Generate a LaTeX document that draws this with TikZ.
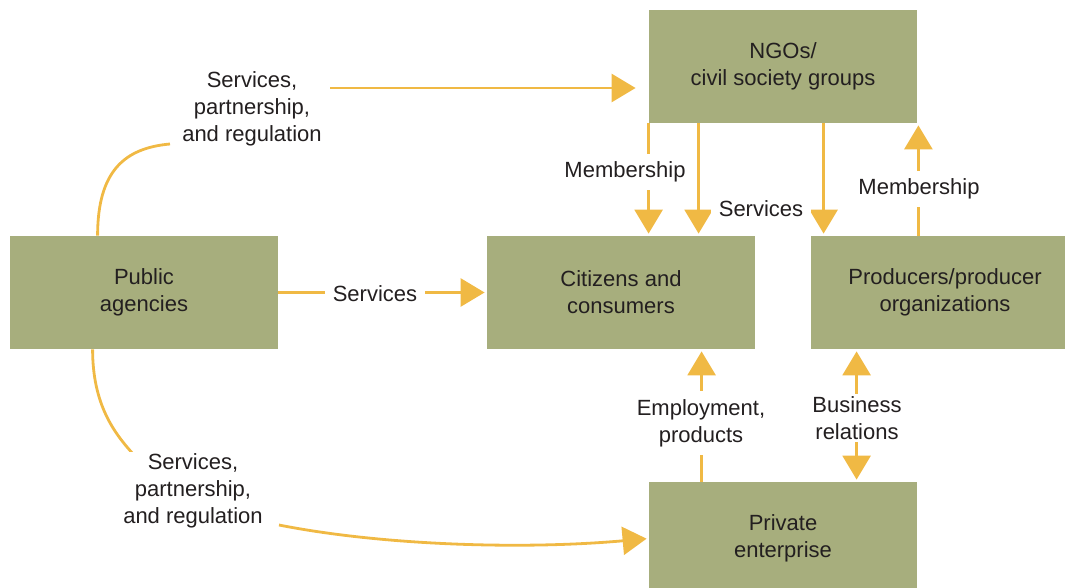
\documentclass[tikz,border=0pt]{standalone}
\usepackage{fontspec}
\setmainfont{Liberation Sans}
\usetikzlibrary{arrows.meta, calc}
\definecolor{boxgreen}{HTML}{A7AE7D}
\definecolor{arrorange}{HTML}{F0B944}
\definecolor{txtgray}{HTML}{231F20}

\begin{document}
\begin{tikzpicture}[x=0.5pt, y=-0.5pt,
    font=\fontsize{11}{13.5}\selectfont,
    box/.style={fill=boxgreen, minimum width=134pt, minimum height=56.5pt,
      inner sep=0pt, align=center, text=txtgray,
      execute at begin node={\rule{0pt}{10pt}}},
    lbl/.style={fill=white, align=center, text=txtgray, inner sep=4pt},
    link/.style={arrorange, line width=1.4pt},
    arr/.style={link, -{Triangle[length=12pt, width=14pt]}, shorten >=1pt}]
  \useasboundingbox (0,0) rectangle (1065,588);

  % boxes
  \node[box] (ngo)  at (783,66.5)  {NGOs/\\civil society groups};
  \node[box] (pub)  at (144,292.5) {Public\\agencies};
  \node[box] (cit)  at (621,292.5) {Citizens and\\consumers};
  \node[box] (prod) at (945,292.5) {Producers/producer\\organizations};
  \node[box] (priv) at (783,538.5) {Private\\enterprise};

  % attachment points
  \coordinate (memL) at (ngo.south west);
  \coordinate (srvN) at ($(ngo.south west)+(50,0)$);
  \coordinate (srvP) at ($(ngo.south west)+(175,0)$);
  \coordinate (memR) at ($(ngo.south east)+(1,0)$);
  \coordinate (emp)  at ($(cit.south west)+(215,0)$);
  \coordinate (bus)  at ($(prod.south west)+(46,0)$);
  \coordinate (topS) at (330,88);
  \coordinate (topC) at (170,144);
  \coordinate (botC) at (134,455);
  \coordinate (botS) at (279,525);

  % connectors
  \draw[arr] (memL) -- (memL |- cit.north);
  \draw[arr] (srvN) -- (srvN |- cit.north);
  \draw[arr] (srvP) -- (srvP |- prod.north);
  \draw[arr] (memR |- prod.north) -- (memR);
  \draw[arr] (emp |- priv.north) -- (emp);
  \draw[arr, {Triangle[length=12pt, width=14pt]}-{Triangle[length=12pt, width=14pt]}, shorten <=1pt]
    (bus) -- (bus |- priv.north);
  \draw[arr] (pub) -- (cit);
  \draw[arr, shorten >=6.5pt] (topS) -- (topS -| ngo.west);
  \draw[link] ($(pub.north west)+(88,0)$) .. controls +(0,-65) and +(-45,4) .. (topC);
  \draw[link] ($(pub.south west)+(83,0)$) .. controls +(0,55) and +(-20,-22) .. (botC);
  \draw[arr] (botS) .. controls (380,545) and (520,550) .. (priv.west);

  % labels
  \node[lbl, inner sep=1pt] (lSrvTop) at (252,109) {Services,\\partnership,\\and regulation};
  \node[lbl, inner sep=1pt] (lSrvBot) at (193,491) {Services,\\partnership,\\and regulation};
  \node[lbl] (lMemL) at (625,172) {Membership};
  \node[lbl] (lSrvN) at (761,209) {Services};
  \node[lbl] (lMemR) at (919,189) {Membership};
  \node[lbl] (lSrvC) at (375,293.5) {Services};
  \node[lbl] (lEmp) at (701,423) {Employment,\\products};
  \node[lbl, inner ysep=1pt] (lBus) at (857,418) {Business\\relations};
\end{tikzpicture}
\end{document}
